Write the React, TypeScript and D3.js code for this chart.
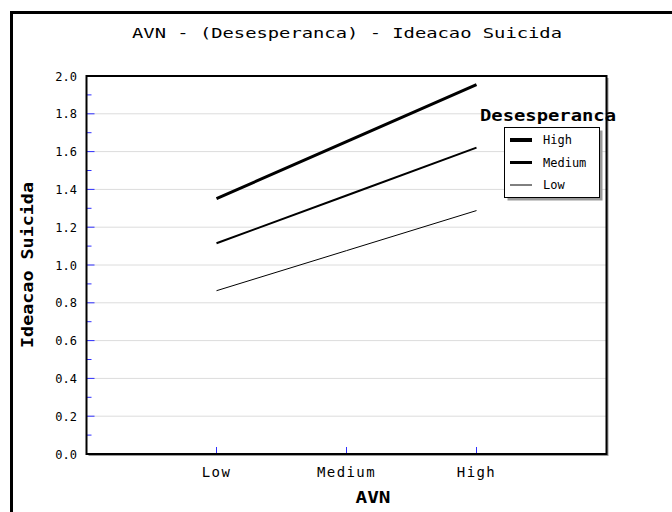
import React from 'react';
import * as d3 from 'd3';

const categories = ['Low', 'Medium', 'High'];
const seriesNames = ['High', 'Medium', 'Low'];
const highValues = [1.351, 1.653, 1.955];
const mediumValues = [1.115, 1.368, 1.621];
const lowValues = [0.864, 1.076, 1.288];
const seriesValues = [highValues, mediumValues, lowValues];
const lineWidths = [3, 2, 1];
const legendWidths = [4, 3, 1];

const mono = '"DejaVu Sans Mono", monospace';
const tickBlue = '#3030ff';

export default function App() {
  const left = 86.5;
  const right = 606.5;
  const top = 76;
  const bottom = 454;

  const x = d3.scalePoint<string>().domain(categories).range([left, right]).padding(1);
  const y = d3.scaleLinear().domain([0, 2]).range([bottom, top]);

  const major = y.ticks(10);
  const minor = y.ticks(20).filter((t) => Math.round(t * 10) % 2 === 1);

  const line = d3
    .line<number>()
    .x((_, i) => x(categories[i]) as number)
    .y((d) => y(d));

  return (
    <svg
      width={672}
      height={512}
      style={{ position: 'absolute', left: 0, top: 0, background: '#fff' }}
    >
      <rect x={0} y={0} width={672} height={512} fill="#fff" />
      {/* outer frame */}
      <rect x={11.5} y={12.5} width={700} height={540} fill="none" stroke="#000" strokeWidth={3} />

      <text x={347} y={37.5} fontFamily={mono} fontSize={14} textLength={430} lengthAdjust="spacingAndGlyphs" textAnchor="middle">
        AVN - (Desesperanca) - Ideacao Suicida
      </text>

      {/* plot shadow + background */}
      <rect x={left + 2} y={top + 2} width={right - left} height={bottom - top} fill="#999" />
      <rect x={left} y={top} width={right - left} height={bottom - top} fill="#fff" />

      {major
        .filter((t) => t > 0 && t < 2)
        .map((t) => (
          <line key={'g' + t} x1={left} x2={right} y1={y(t)} y2={y(t)} stroke="#dcdcdc" strokeWidth={1} />
        ))}

      {major
        .filter((t) => t > 0 && t < 2)
        .map((t) => (
          <line key={'mt' + t} x1={left} x2={left + 8} y1={y(t)} y2={y(t)} stroke={tickBlue} strokeWidth={1} />
        ))}
      {minor.map((t) => (
        <line key={'mn' + t} x1={left} x2={left + 5} y1={y(t)} y2={y(t)} stroke={tickBlue} strokeWidth={1} />
      ))}
      {categories.map((c) => (
        <line key={'xt' + c} x1={x(c)} x2={x(c)} y1={bottom} y2={bottom - 7} stroke={tickBlue} strokeWidth={1} />
      ))}

      <rect x={left} y={top} width={right - left} height={bottom - top} fill="none" stroke="#000" strokeWidth={2} />

      {major.map((t) => (
        <text key={'yl' + t} x={77} y={y(t) + 4.5} fontFamily={mono} fontSize={12} textAnchor="end">
          {t.toFixed(1)}
        </text>
      ))}

      {categories.map((c) => (
        <text key={'xl' + c} x={x(c)} y={477} fontFamily={mono} fontSize={14} letterSpacing={1.4} textAnchor="middle">
          {c}
        </text>
      ))}

      <text x={373} y={502.5} fontFamily={mono} fontSize={15} fontWeight="bold" textAnchor="middle" textLength={35} lengthAdjust="spacingAndGlyphs">
        AVN
      </text>

      <text
        transform="translate(33,265) rotate(-90)"
        fontFamily={mono}
        fontSize={15}
        fontWeight="bold"
        textAnchor="middle"
        textLength={166}
        lengthAdjust="spacingAndGlyphs"
      >
        Ideacao Suicida
      </text>

      {seriesValues.map((vals, i) => (
        <path key={'s' + i} d={line(vals) as string} fill="none" stroke="#000" strokeWidth={lineWidths[i]} />
      ))}

      {/* legend */}
      <text x={548} y={121} fontFamily={mono} fontSize={15} fontWeight="bold" textAnchor="middle" textLength={136} lengthAdjust="spacingAndGlyphs">
        Desesperanca
      </text>
      <rect x={507.5} y={130.5} width={95} height={70} fill="#999" />
      <rect x={504.5} y={127.5} width={95} height={70} fill="#fff" stroke="#000" strokeWidth={1} />
      {seriesNames.map((n, i) => (
        <g key={'lg' + n} transform={`translate(0,${140 + i * 22.5})`}>
          <line x1={510} x2={532} y1={0} y2={0} stroke="#000" strokeWidth={legendWidths[i]} />
          <text x={543} y={4} fontFamily={mono} fontSize={12}>
            {n}
          </text>
        </g>
      ))}
    </svg>
  );
}
